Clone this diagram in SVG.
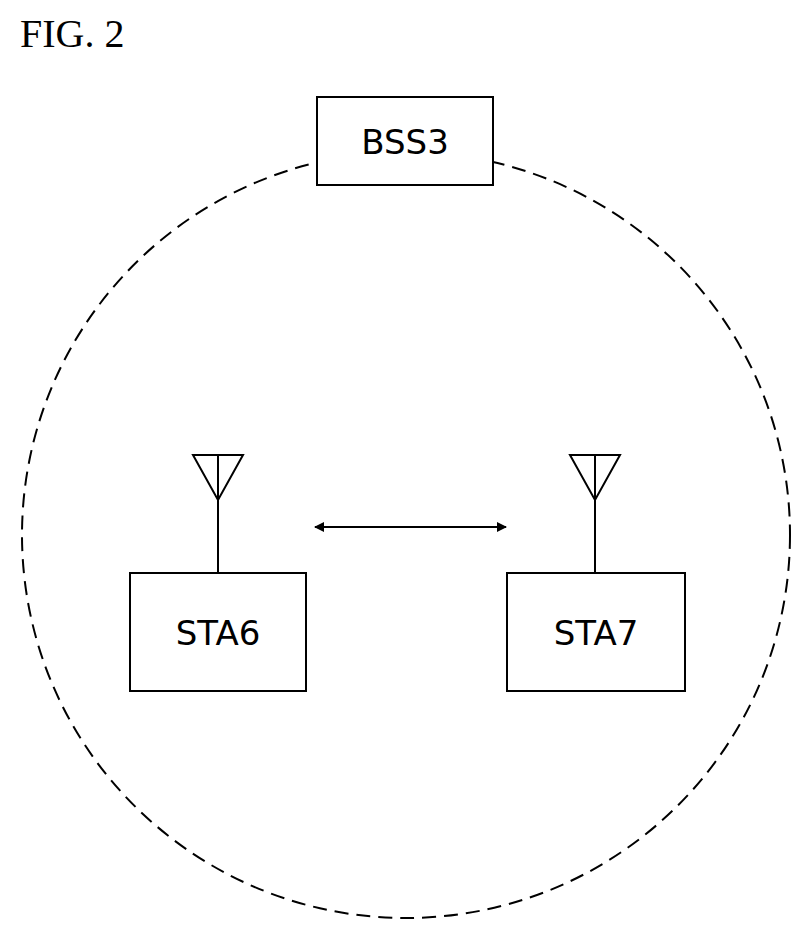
<svg xmlns="http://www.w3.org/2000/svg" width="810" height="942" viewBox="0 0 810 942">
<style>
.b{fill:#fff;stroke:#000;stroke-width:2}
.l{fill:none;stroke:#000;stroke-width:2}
.t{font-family:"DejaVu Sans",sans-serif;font-size:34px;text-anchor:middle;fill:#000}
</style>
<defs><marker id="a" viewBox="0 0 10 10" refX="9" refY="5" markerWidth="6" markerHeight="5" orient="auto-start-reverse"><path d="M0,0L10,5L0,10z"/></marker></defs>
<rect width="810" height="942" fill="#fff"/>
<text x="20" y="47" font-family="Liberation Serif,serif" font-size="40">FIG. 2</text>
<ellipse cx="406" cy="535" rx="384" ry="383" class="l" stroke-dasharray="14,8"/>
<g id="bss3"><rect x="317" y="97" width="176" height="88" class="b"/><text x="405" y="154" class="t">BSS3</text></g>
<g id="sta6"><path class="l" d="M193,455H243L218,500ZM218,455V573"/><rect x="130" y="573" width="176" height="118" class="b"/><text x="218" y="645" class="t">STA6</text></g>
<g id="sta7"><path class="l" d="M570,455H620L595,500ZM595,455V573"/><rect x="507" y="573" width="178" height="118" class="b"/><text x="596" y="645" class="t">STA7</text></g>
<g id="connectors"><line x1="315" y1="527" x2="506" y2="527" class="l" marker-start="url(#a)" marker-end="url(#a)"/></g>
</svg>
